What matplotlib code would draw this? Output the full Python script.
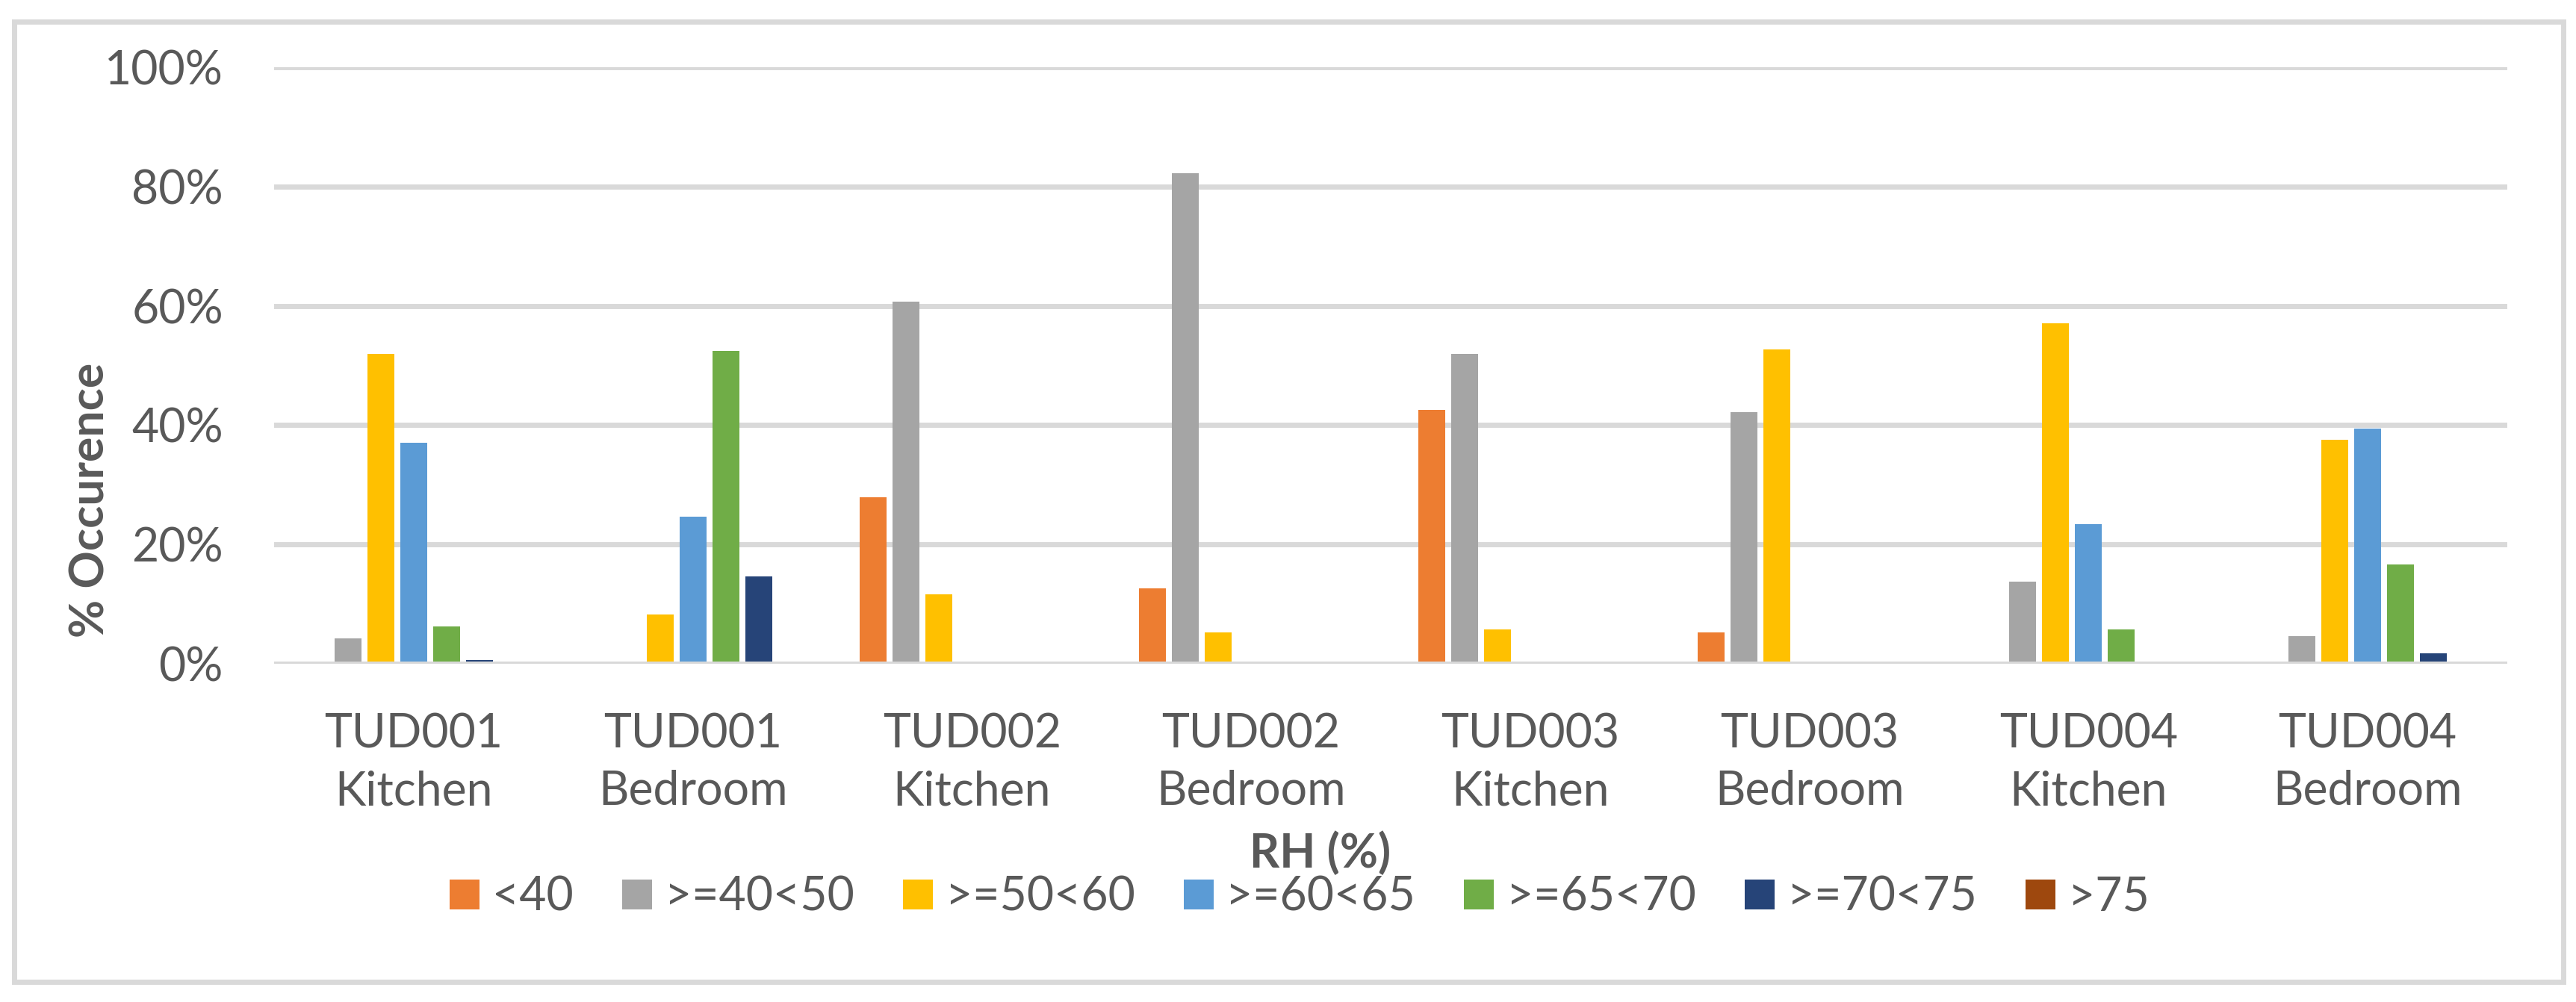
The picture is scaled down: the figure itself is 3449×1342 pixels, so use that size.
import matplotlib
matplotlib.use('Agg')
import matplotlib.pyplot as plt
from matplotlib.patches import Rectangle, Patch
import numpy as np

categories = ["TUD001\nKitchen", "TUD001\nBedroom", "TUD002\nKitchen", "TUD002\nBedroom",
              "TUD003\nKitchen", "TUD003\nBedroom", "TUD004\nKitchen", "TUD004\nBedroom"]
series_names = ["<40", ">=40<50", ">=50<60", ">=60<65", ">=65<70", ">=70<75", ">75"]
lt40   = [0.0, 0.0, 27.9, 12.7, 42.5, 5.2, 0.0, 0.0]
r40_50 = [4.2, 0.0, 60.7, 82.2, 51.9, 42.2, 13.8, 4.6]
r50_60 = [51.9, 8.3, 11.6, 5.2, 5.7, 52.7, 57.1, 37.5]
r60_65 = [37.0, 24.6, 0.0, 0.0, 0.0, 0.0, 23.4, 39.4]
r65_70 = [6.2, 52.4, 0.0, 0.0, 0.0, 0.0, 5.7, 16.6]
r70_75 = [0.6, 14.6, 0.0, 0.0, 0.0, 0.0, 0.0, 1.7]
gt75   = [0.0, 0.0, 0.0, 0.0, 0.0, 0.0, 0.0, 0.0]
series_values = [lt40, r40_50, r50_60, r60_65, r65_70, r70_75, gt75]
colors = ["#ED7D31", "#A5A5A5", "#FFC000", "#5B9BD5", "#70AD47", "#264478", "#9E480E"]
yticks = [0, 20, 40, 60, 80, 100]

W, H = 3449, 1342
DPI = 100
plt.rcParams['font.family'] = ['Lato', 'DejaVu Sans']
text_color = "#595959"
fs = 45

fig = plt.figure(figsize=(W / DPI, H / DPI), dpi=DPI)
fig.patch.set_facecolor('white')

ax = fig.add_axes([367 / W, 1 - 889 / H, (3357 - 367) / W, (889 - 90) / H])
x = np.arange(len(categories))
pitch = 0.1178
width = 0.0964
for i, (name, vals, c) in enumerate(zip(series_names, series_values, colors)):
    ax.bar(x + (i - 3) * pitch, vals, width=width, color=c, label=name, zorder=2)

ax.set_xlim(-0.5, len(categories) - 0.5)
ax.set_ylim(0, 100)
ax.set_yticks(yticks)
ax.set_yticklabels([f"{v}%" for v in yticks])
ax.set_xticks(x)
ax.set_xticklabels(categories, linespacing=1.4)
for s in ax.spines.values():
    s.set_visible(False)
ax.tick_params(axis='both', length=0, labelsize=fs, colors=text_color)
ax.tick_params(axis='y', pad=49)
ax.tick_params(axis='x', pad=47)
ax.yaxis.grid(True, color="#D9D9D9", linewidth=5, zorder=0)
ax.set_axisbelow(True)
ax.axhline(0, color="#D9D9D9", linewidth=5, zorder=3)

fig.text(121 / W, 1 - 670 / H, "% Occurence", rotation=90, ha='center', va='center',
         fontsize=fs, fontweight='bold', color=text_color)
fig.text(1768 / W, 1 - 1162 / H, "RH (%)", ha='center', va='baseline',
         fontsize=fs, fontweight='bold', color=text_color)

handles = [Patch(facecolor=c, edgecolor='none', label=n) for n, c in zip(series_names, colors)]
fig.legend(handles=handles, loc='center', bbox_to_anchor=(1740 / W, 1 - 1202 / H), ncol=7,
           frameon=False, fontsize=fs, labelcolor=text_color, handlelength=0.64,
           handleheight=0.62, handletextpad=0.27, columnspacing=1.04, borderpad=0)

fig.patches.append(Rectangle((18.5 / W, 1 - 1315 / H), (3432 - 18.5) / W, (1315 - 29) / H,
                             transform=fig.transFigure, fill=False, edgecolor="#D9D9D9",
                             linewidth=5, zorder=0))

fig.savefig("out.png", dpi=DPI, facecolor='white')
